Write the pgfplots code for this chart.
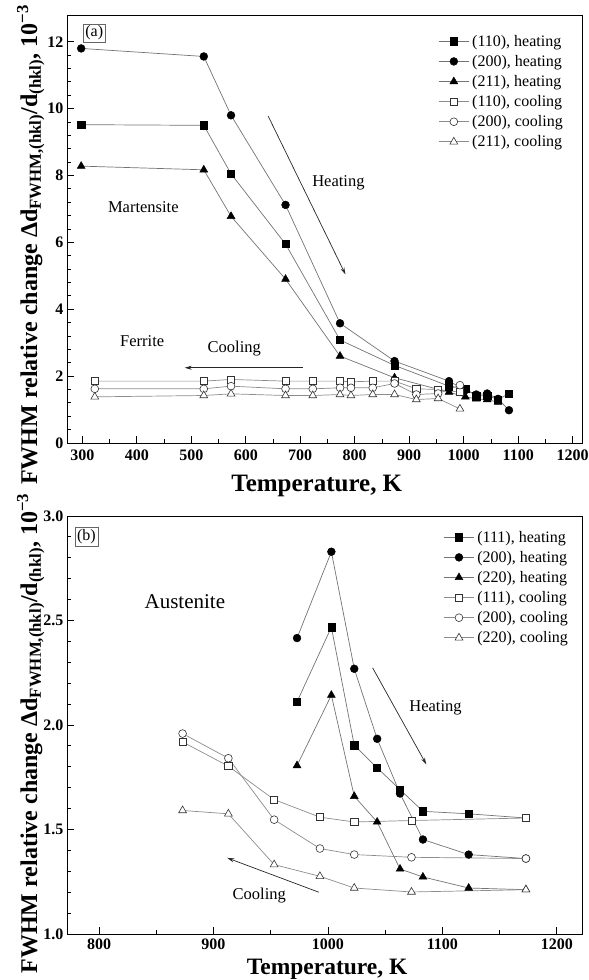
\documentclass[border=0pt]{standalone}
\usepackage{fontspec}
\setmainfont{Liberation Serif}
\usepackage{pgfplots}
\pgfplotsset{compat=1.18}
\usetikzlibrary{arrows.meta}
\newcommand\fs[1]{\fontsize{#1}{#1}\selectfont}
\pgfplotsset{
  panel/.style={
    scale only axis, width=515pt,
    axis line style={black, line width=0.9pt},
    tick align=inside, xtick pos=left, ytick pos=left,
    major tick length=7pt, minor tick length=4pt,
    tick style={black, line width=0.8pt},
    tick label style={font=\fs{16}\bfseries},
    /pgf/number format/assume math mode=true,
    /pgf/number format/1000 sep={},
    legend style={draw=none, fill=none, font=\fs{16}, cells={anchor=west},
      nodes={inner ysep=1pt, inner xsep=3pt}, row sep=5.5pt, inner sep=0pt},
    legend image code/.code={\draw[mark repeat=2,mark phase=2] plot coordinates {(0pt,0pt) (15pt,0pt) (30pt,0pt)};},
    xlabel={Temperature, K},
    ylabel={FWHM relative change Δd\textsubscript{FWHM,(hkl)}/d\textsubscript{(hkl)}, 10\textsuperscript{−3}},
    ylabel style={font=\fs{24}\bfseries, anchor=base},
  },
  hsq/.style={black!55, line width=0.7pt, mark=square*, mark size=3.6pt, mark options={solid, fill=black, draw=black, line width=0.5pt}},
  hci/.style={black!55, line width=0.7pt, mark=*, mark size=3.9pt, mark options={solid, fill=black, draw=black, line width=0.5pt}},
  htr/.style={black!55, line width=0.7pt, mark=triangle*, mark size=4.5pt, mark options={solid, fill=black, draw=black, line width=0.5pt}},
  csq/.style={black!45, line width=0.7pt, mark=square*, mark size=3.6pt, mark options={solid, fill=white, draw=black!80, line width=0.6pt}},
  cci/.style={black!45, line width=0.7pt, mark=*, mark size=3.9pt, mark options={solid, fill=white, draw=black!80, line width=0.6pt}},
  ctr/.style={black!45, line width=0.7pt, mark=triangle*, mark size=4.5pt, mark options={solid, fill=white, draw=black!80, line width=0.6pt}},
}
\begin{document}
\begin{tikzpicture}
\useasboundingbox (0pt,0pt) rectangle (589pt,980pt);
% ---------------- panel (a) ----------------
\begin{axis}[panel, at={(67pt,537pt)}, anchor=south west, height=428pt,
  xmin=272, xmax=1217, ymin=0, ymax=12.8,
  xtick={300,400,...,1200}, minor x tick num=1,
  ytick={0,2,...,12}, minor y tick num=4,
  xticklabel style={yshift=-3pt},
  xlabel style={font=\fs{25}\bfseries, anchor=base, at={(axis description cs:0.485,0)}, yshift=-49pt},
  ylabel style={at={(axis description cs:-0.058,0.463)}},
  legend style={at={(axis description cs:0.969,0.956)}, anchor=north east},
]
\addplot[hsq] coordinates {(298,9.52) (523,9.5) (573,8.05) (673,5.95) (773,3.08) (873,2.32) (973,1.7) (1003,1.63) (1023,1.4) (1043,1.42) (1063,1.3) (1083,1.48)};
\addlegendentry{(110), heating}
\addplot[hci] coordinates {(298,11.8) (523,11.56) (573,9.8) (673,7.12) (773,3.58) (873,2.45) (973,1.85) (1003,1.58) (1023,1.45) (1043,1.48) (1063,1.32) (1083,0.98)};
\addlegendentry{(200), heating}
\addplot[htr] coordinates {(298,8.28) (523,8.17) (573,6.78) (673,4.9) (773,2.6) (873,1.95) (973,1.52) (1003,1.38) (1023,1.32) (1043,1.3) (1063,1.22)};
\addlegendentry{(211), heating}
\addplot[csq] coordinates {(323,1.85) (523,1.85) (573,1.9) (673,1.85) (723,1.85) (773,1.85) (793,1.83) (833,1.85) (873,1.85) (913,1.62) (953,1.6) (993,1.52)};
\addlegendentry{(110), cooling}
\addplot[cci] coordinates {(323,1.62) (523,1.62) (573,1.7) (673,1.62) (723,1.62) (773,1.65) (793,1.65) (833,1.65) (873,1.78) (913,1.45) (953,1.48) (993,1.73)};
\addlegendentry{(200), cooling}
\addplot[ctr] coordinates {(323,1.38) (523,1.42) (573,1.47) (673,1.42) (723,1.42) (773,1.45) (793,1.42) (833,1.45) (873,1.45) (913,1.3) (953,1.33) (993,1.02)};
\addlegendentry{(211), cooling}
\node[draw=black!60, inner sep=2pt, font=\fs{16}] at (axis cs:322,12.26) {(a)};
\node[font=\fs{16.5}] at (axis cs:412,7.05) {Martensite};
\node[font=\fs{16.5}] at (axis cs:770,7.77) {Heating};
\node[font=\fs{16.5}] at (axis cs:410,3.04) {Ferrite};
\node[font=\fs{16.5}] at (axis cs:579,2.82) {Cooling};
\draw[black!85, line width=0.7pt, -{Stealth[length=7pt,width=4pt,open]}] (axis cs:641,9.78) -- (axis cs:783,5.04);
\draw[black!85, line width=0.7pt, -{Stealth[length=7pt,width=4pt]}] (axis cs:705,2.25) -- (axis cs:488,2.25);
\end{axis}
% ---------------- panel (b) ----------------
\begin{axis}[panel, at={(67pt,46pt)}, anchor=south west, height=418pt,
  xmin=772, xmax=1222, ymin=1, ymax=3,
  xtick={800,900,...,1200}, minor x tick num=1,
  ytick={1,1.5,...,3}, minor y tick num=4,
  yticklabel style={/pgf/number format/.cd, fixed, fixed zerofill, precision=1},
  xticklabel style={yshift=-1pt},
  xlabel style={font=\fs{23.5}\bfseries, anchor=base, at={(axis description cs:0.505,0)}, yshift=-41pt},
  ylabel style={at={(axis description cs:-0.058,0.48)}},
  legend style={at={(axis description cs:0.979,0.967)}, anchor=north east},
]
\addplot[hsq] coordinates {(973,2.111) (1003,2.468) (1023,1.903) (1043,1.795) (1063,1.691) (1083,1.587) (1123,1.575) (1173,1.555)};
\addlegendentry{(111), heating}
\addplot[hci] coordinates {(973,2.416) (1003,2.829) (1023,2.269) (1043,1.934) (1063,1.672) (1083,1.452) (1123,1.380) (1173,1.361)};
\addlegendentry{(200), heating}
\addplot[htr] coordinates {(973,1.806) (1003,2.143) (1023,1.659) (1043,1.536) (1063,1.311) (1083,1.273) (1123,1.220) (1173,1.212)};
\addlegendentry{(220), heating}
\addplot[csq] coordinates {(873,1.919) (913,1.803) (953,1.643) (993,1.559) (1023,1.536) (1073,1.543) (1173,1.555)};
\addlegendentry{(111), cooling}
\addplot[cci] coordinates {(873,1.959) (913,1.841) (953,1.547) (993,1.409) (1023,1.380) (1073,1.367) (1173,1.361)};
\addlegendentry{(200), cooling}
\addplot[ctr] coordinates {(873,1.591) (913,1.575) (953,1.332) (993,1.276) (1023,1.220) (1073,1.201) (1173,1.212)};
\addlegendentry{(220), cooling}
\node[draw=black!60, inner sep=2pt, font=\fs{16}] at (axis cs:789,2.9) {(b)};
\node[font=\fs{21}] at (axis cs:875,2.588) {Austenite};
\node[font=\fs{16.5}] at (axis cs:1094,2.082) {Heating};
\node[font=\fs{16.5}] at (axis cs:940,1.184) {Cooling};
\draw[black!85, line width=0.7pt, -{Stealth[length=7pt,width=4pt,open]}] (axis cs:1039,2.274) -- (axis cs:1086,1.811);
\draw[black!85, line width=0.7pt, -{Stealth[length=7pt,width=4pt]}] (axis cs:992,1.2) -- (axis cs:912,1.364);
\end{axis}
\end{tikzpicture}
\end{document}
